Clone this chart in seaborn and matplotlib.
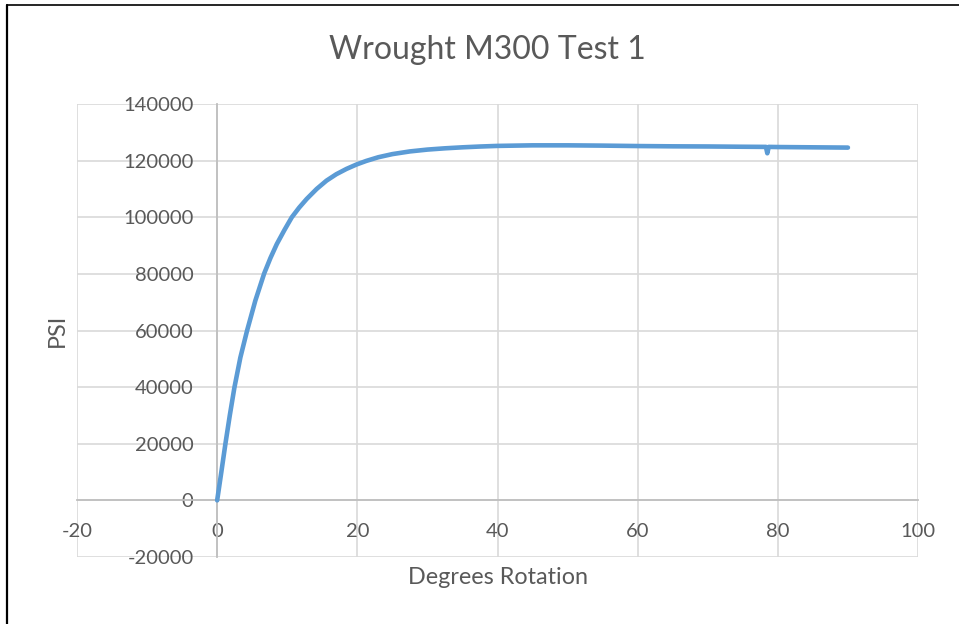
import matplotlib
matplotlib.use("Agg")
import matplotlib.pyplot as plt
from matplotlib.lines import Line2D
import numpy as np
import pandas as pd
import seaborn as sns

# Torsion test readings: rotation (degrees) vs stress (PSI)
rotation_deg = [0.0, 0.6, 1.18, 1.8, 2.46, 3.31, 4.26, 5.44, 6.71, 7.6, 8.51,
                9.6, 10.64, 11.7, 12.77, 14.2, 15.6, 17.0, 18.44, 19.9, 21.28,
                23.0, 25.0, 27.5, 30.0, 32.5, 35.0, 37.5, 40.0, 45.0, 50.0, 55.0,
                60.0, 65.0, 70.0, 75.0, 78.3, 78.5, 78.7, 80.0, 85.0, 90.0]
stress_psi = [0, 10100, 20040, 30000, 39850, 50460, 59890, 70500, 80160, 85600, 90530,
              95500, 99960, 103400, 106450, 110000, 112930, 115200, 117060, 118650, 119900,
              121200, 122300, 123250, 123900, 124350, 124700, 124980, 125200, 125400, 125400,
              125300, 125150, 125050, 125000, 124900, 124850, 122600, 124850, 124800, 124700,
              124600]

x_ticks = [-20, 0, 20, 40, 60, 80, 100]
y_ticks = [-20000, 0, 20000, 40000, 60000, 80000, 100000, 120000, 140000]

title_text = "Wrought M300 Test 1"
x_label = "Degrees Rotation"
y_label = "PSI"

df = pd.DataFrame({"rotation": rotation_deg, "psi": stress_psi})

sns.set_theme(style="white")
plt.rcParams["font.family"] = ["Lato", "DejaVu Sans"]

text_color = "#595959"
grid_color = "#D9D9D9"
axis_color = "#BFBFBF"
line_color = "#5B9BD5"

fig = plt.figure(figsize=(9.59, 6.24), dpi=100)
ax = fig.add_axes([77 / 959, 1 - 557 / 624, (918 - 77) / 959, (557 - 104) / 624])

sns.lineplot(data=df, x="rotation", y="psi", ax=ax, sort=False, estimator=None,
             color=line_color, linewidth=3.3, solid_capstyle="round",
             solid_joinstyle="round", zorder=3)

ax.set_xlim(-20, 100)
ax.set_ylim(-20000, 140000)
ax.set_xticks(x_ticks)
ax.set_yticks(y_ticks)
ax.set_xticklabels([str(v) for v in x_ticks])
ax.set_yticklabels([str(v) for v in y_ticks])

ax.grid(True, color=grid_color, linewidth=1.2, zorder=0)
ax.set_axisbelow(True)

# axes cross at the origin, with tick labels riding on them
for side in ("top", "right"):
    ax.spines[side].set_visible(False)
ax.spines["left"].set_position(("data", 0))
ax.spines["bottom"].set_position(("data", 0))
for side in ("left", "bottom"):
    ax.spines[side].set_color(axis_color)
    ax.spines[side].set_linewidth(1.3)
    ax.spines[side].set_zorder(1)

ax.tick_params(axis="both", length=0, labelsize=14.5, labelcolor=text_color)
ax.tick_params(axis="x", pad=16)
ax.tick_params(axis="y", pad=17)
ax.set_xlabel("")
ax.set_ylabel("")

fig.text(487 / 959, 1 - 50 / 624, title_text, ha="center", va="center",
         fontsize=23, color=text_color)
fig.text(498 / 959, 1 - 578 / 624, x_label, ha="center", va="center",
         fontsize=16.8, color=text_color)
fig.text(57 / 959, 1 - 330 / 624, y_label, ha="center", va="center",
         rotation=90, fontsize=16.8, color=text_color)

# chart frame edges
fig.add_artist(Line2D([6.5 / 959, 6.5 / 959], [0, 1 - 5 / 624], color="black",
                      linewidth=1.6, transform=fig.transFigure))
fig.add_artist(Line2D([6.5 / 959, 1], [1 - 5.3 / 624, 1 - 5.3 / 624], color="black",
                      linewidth=1.2, transform=fig.transFigure))

fig.savefig("out.png", dpi=100, facecolor="white")
